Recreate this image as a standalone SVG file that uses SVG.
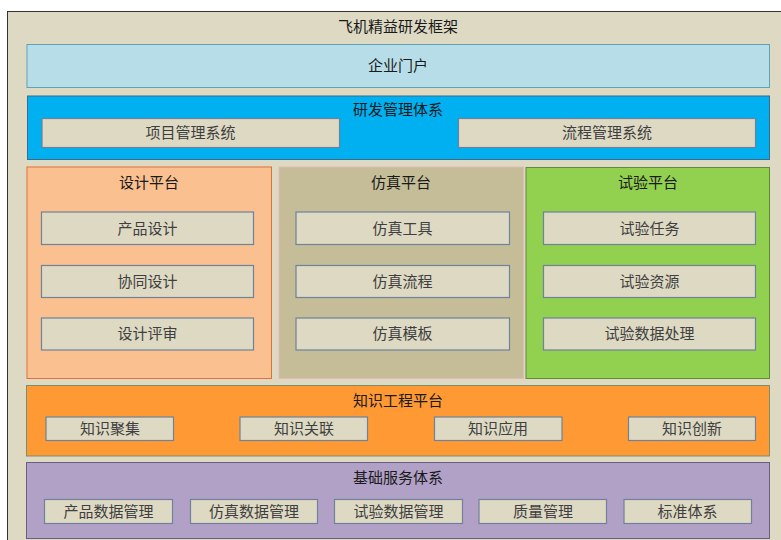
<svg xmlns="http://www.w3.org/2000/svg" width="781" height="540" viewBox="0 0 781 540">
<style>
text{font-family:"Noto Sans CJK SC","Noto Sans",sans-serif;font-size:15px;text-anchor:middle;dominant-baseline:central}
.t{fill:#1a1a1a}
.i{fill:#3f3f3f}
.box{fill:#DDD9C3;stroke:#6F829A;stroke-width:1.2}
</style>
<rect width="781" height="540" fill="#ffffff"/>
<g id="frame">
<rect x="7.5" y="11.5" width="780" height="540" fill="#DDD9C3" stroke="#333333" stroke-width="1"/>
<text class="t" x="398" y="25.5">飞机精益研发框架</text>
</g>
<g id="portal">
<rect x="27" y="44.5" width="742.5" height="43" fill="#B7DDE8" stroke="#5FA3B5" stroke-width="1"/>
<text class="t" x="398" y="64.5">企业门户</text>
</g>
<g id="rd-mgmt">
<rect x="27.5" y="96" width="742" height="63.5" fill="#00B0F0" stroke="#3A6A8C" stroke-width="1"/>
<text class="t" x="398" y="108.5">研发管理体系</text>
<g id="proj-mgmt"><rect class="box" x="42" y="118.5" width="297.5" height="29"/><text class="i" x="190.5" y="131.5">项目管理系统</text></g>
<g id="flow-mgmt"><rect class="box" x="458.5" y="118.5" width="297" height="29"/><text class="i" x="607" y="131.5">流程管理系统</text></g>
</g>
<g id="design">
<rect x="27" y="167" width="244.5" height="211.5" fill="#FAC090" stroke="#E0703A" stroke-width="1"/>
<text class="t" x="149" y="181.5">设计平台</text>
<g id="d1"><rect class="box" x="41.5" y="212" width="212" height="32.5"/><text class="i" x="147.5" y="227">产品设计</text></g>
<g id="d2"><rect class="box" x="41.5" y="265.5" width="212" height="32"/><text class="i" x="147.5" y="280">协同设计</text></g>
<g id="d3"><rect class="box" x="41.5" y="318" width="212" height="32"/><text class="i" x="147.5" y="332.5">设计评审</text></g>
</g>
<g id="sim">
<rect x="279" y="167" width="244.5" height="211.5" fill="#C4BD97" stroke="#E6B9B8" stroke-width="1"/>
<text class="t" x="401" y="181.5">仿真平台</text>
<g id="s1"><rect class="box" x="296" y="212" width="213.5" height="32.5"/><text class="i" x="402.5" y="227">仿真工具</text></g>
<g id="s2"><rect class="box" x="296" y="265.5" width="213.5" height="32"/><text class="i" x="402.5" y="280">仿真流程</text></g>
<g id="s3"><rect class="box" x="296" y="318" width="213.5" height="32"/><text class="i" x="402.5" y="332.5">仿真模板</text></g>
</g>
<g id="test">
<rect x="526" y="167.5" width="243.5" height="211" fill="#92D050" stroke="#5E8A3A" stroke-width="1"/>
<text class="t" x="648" y="181.5">试验平台</text>
<g id="e1"><rect class="box" x="543.5" y="212" width="212" height="32.5"/><text class="i" x="649.5" y="227">试验任务</text></g>
<g id="e2"><rect class="box" x="543.5" y="265.5" width="212" height="32"/><text class="i" x="649.5" y="280">试验资源</text></g>
<g id="e3"><rect class="box" x="543.5" y="318" width="212" height="32"/><text class="i" x="649.5" y="332.5">试验数据处理</text></g>
</g>
<g id="knowledge">
<rect x="26.5" y="385.5" width="743" height="70.5" fill="#FF9933" stroke="#7A8F6A" stroke-width="1"/>
<text class="t" x="398" y="399">知识工程平台</text>
<g id="k1"><rect class="box" x="46" y="417" width="127.5" height="23.5"/><text class="i" x="110" y="427.5">知识聚集</text></g>
<g id="k2"><rect class="box" x="240" y="417" width="127.5" height="23.5"/><text class="i" x="304" y="427.5">知识关联</text></g>
<g id="k3"><rect class="box" x="434.5" y="417" width="127.5" height="23.5"/><text class="i" x="498" y="427.5">知识应用</text></g>
<g id="k4"><rect class="box" x="628.5" y="417" width="127" height="23.5"/><text class="i" x="692" y="427.5">知识创新</text></g>
</g>
<g id="base">
<rect x="26.5" y="462.5" width="743" height="76" fill="#B2A1C7" stroke="#6A5C82" stroke-width="1"/>
<text class="t" x="398" y="476">基础服务体系</text>
<g id="b1"><rect class="box" x="44.5" y="499.5" width="128" height="24"/><text class="i" x="108.5" y="510">产品数据管理</text></g>
<g id="b2"><rect class="box" x="190.5" y="499.5" width="127" height="24"/><text class="i" x="254" y="510">仿真数据管理</text></g>
<g id="b3"><rect class="box" x="334.5" y="499.5" width="128" height="24"/><text class="i" x="398.5" y="510">试验数据管理</text></g>
<g id="b4"><rect class="box" x="479" y="499.5" width="127.5" height="24"/><text class="i" x="543" y="510">质量管理</text></g>
<g id="b5"><rect class="box" x="624" y="499.5" width="127.5" height="24"/><text class="i" x="687.5" y="510">标准体系</text></g>
</g>
<g id="connectors"></g>
</svg>
